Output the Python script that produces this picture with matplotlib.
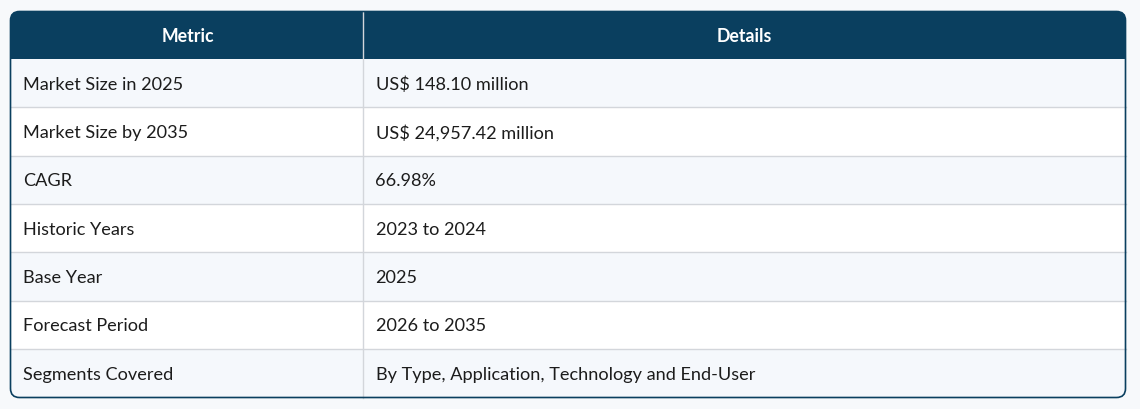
import matplotlib.pyplot as plt
from matplotlib.patches import FancyBboxPatch, Rectangle

# table content
headers = ['Metric', 'Details']
metrics = ['Market Size in 2025', 'Market Size by 2035', 'CAGR', 'Historic Years',
           'Base Year', 'Forecast Period', 'Segments Covered']
details = ['US$ 148.10 million', 'US$ 24,957.42 million', '66.98%', '2023 to 2024',
           '2025', '2026 to 2035', 'By Type, Application, Technology and End-User']

W, H = 1140, 409
left, right, top, bottom = 10.5, 1125.5, 11.5, 397.5
split = 362.5
head_h = 47.5
row_h = (bottom - top - head_h) / len(metrics)

navy = '#0a3f5f'
light = '#f5f8fc'
line_c = '#d3d6db'
txt = '#1c1c1c'

fig = plt.figure(figsize=(W / 100, H / 100), dpi=100)
fig.patch.set_facecolor('#f7f9fb')
ax = fig.add_axes([0, 0, 1, 1])
ax.set_xlim(0, W)
ax.set_ylim(H, 0)
ax.axis('off')

frame = FancyBboxPatch((left, top), right - left, bottom - top,
                       boxstyle='round,pad=0,rounding_size=9',
                       facecolor='white', edgecolor='none', zorder=1)
ax.add_patch(frame)

# header band
hb = Rectangle((left, top), right - left, head_h, facecolor=navy, edgecolor='none', zorder=2)
ax.add_patch(hb)
hb.set_clip_path(frame)

# row stripes
for i in range(len(metrics)):
    y0 = top + head_h + i * row_h
    r = Rectangle((left, y0), right - left, row_h,
                  facecolor=light if i % 2 == 0 else 'white', edgecolor='none', zorder=2)
    ax.add_patch(r)
    r.set_clip_path(frame)
    if i > 0:
        ax.plot([left, right], [y0, y0], color=line_c, lw=1, zorder=3)

ax.plot([split, split], [top, bottom], color=line_c, lw=1, zorder=3)

border = FancyBboxPatch((left, top), right - left, bottom - top,
                        boxstyle='round,pad=0,rounding_size=9',
                        facecolor='none', edgecolor=navy, lw=1.2, zorder=5)
ax.add_patch(border)

font = ['Lato', 'DejaVu Sans']
ax.text((left + split) / 2 + 1, top + head_h / 2 + 1, headers[0], color='white', fontsize=12.8,
        fontweight='bold', ha='center', va='center', family=font, zorder=6)
ax.text((split + right) / 2, top + head_h / 2 + 1, headers[1], color='white', fontsize=12.8,
        fontweight='bold', ha='center', va='center', family=font, zorder=6)

for i, (m, d) in enumerate(zip(metrics, details)):
    yc = top + head_h + (i + 0.5) * row_h + 1.5
    ax.text(23, yc, m, color=txt, fontsize=13.1, ha='left', va='center', family=font, zorder=6)
    ax.text(375.5, yc, d, color=txt, fontsize=13.1, ha='left', va='center', family=font, zorder=6)

fig.savefig('out.png', dpi=100, facecolor=fig.get_facecolor())
